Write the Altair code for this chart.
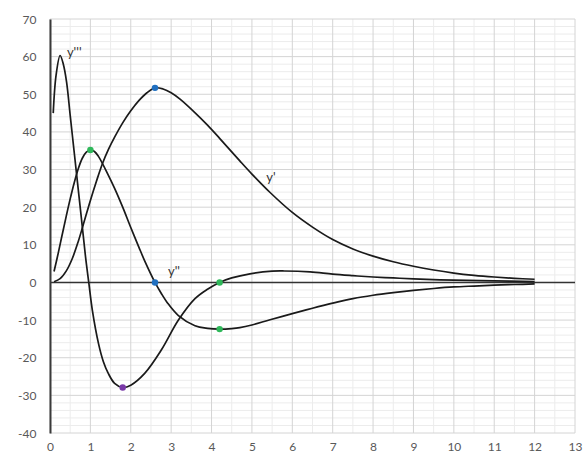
import altair as alt
import pandas as pd

# First derivative y'
d1_x = [0.1, 0.25, 0.4, 0.55, 0.7, 0.85, 1.0, 1.15, 1.3, 1.45, 1.6, 1.8, 2.0, 2.2, 2.4, 2.6,
        2.8, 3.0, 3.22, 3.6, 3.9, 4.2, 4.7, 5.0, 5.45, 6.0, 6.5, 7.0, 7.5, 8.0, 8.5, 9.0,
        9.5, 10.0, 10.5, 11.0, 11.5, 12.0]
d1_y = [0.2, 1.0, 3.0, 6.3, 10.9, 16.3, 21.8, 26.9, 31.6, 35.4, 38.6, 42.4, 45.6, 48.3, 50.4, 51.7,
        51.4, 50.4, 48.7, 45.0, 41.8, 38.3, 32.3, 28.8, 23.9, 18.6, 14.7, 11.4, 8.9, 7.0, 5.5, 4.3,
        3.3, 2.5, 1.9, 1.45, 1.1, 0.85]

# Second derivative y''
d2_x = [0.1, 0.2, 0.3, 0.4, 0.5, 0.6, 0.7, 0.8, 0.9, 1.0, 1.1, 1.2, 1.44, 1.6, 1.8, 2.0,
        2.2, 2.35, 2.6, 2.76, 2.9, 3.18, 3.59, 3.9, 4.2, 4.5, 4.7, 5.0, 5.45, 6.0, 6.5, 7.0,
        7.5, 8.0, 8.5, 9.0, 9.5, 10.0, 10.5, 11.0, 11.5, 12.0]
d2_y = [2.9, 7.6, 12.6, 17.5, 22.2, 26.5, 30.2, 33.0, 34.6, 35.2, 34.8, 33.5, 28.6, 25.0, 20.0, 14.6,
        9.4, 5.6, 0.0, -3.0, -5.3, -8.8, -11.5, -12.2, -12.4, -12.25, -12.0, -11.3, -9.9, -8.3, -6.85, -5.5,
        -4.3, -3.4, -2.7, -2.1, -1.6, -1.2, -0.95, -0.72, -0.55, -0.4]

# Third derivative y'''
d3_x = [0.08, 0.15, 0.25, 0.33, 0.41, 0.5, 0.58, 0.66, 0.78, 0.88, 0.96, 1.05, 1.2, 1.32, 1.44, 1.6,
        1.8, 2.0, 2.35, 2.76, 3.18, 3.59, 3.9, 4.2, 4.5, 4.95, 5.5, 5.8, 6.44, 7.0, 7.5, 8.0,
        8.5, 9.0, 10.0, 11.0, 12.0]
d3_y = [45.0, 55.0, 60.3, 58.0, 53.3, 44.4, 36.5, 28.6, 16.8, 6.8, 0.0, -7.5, -16.2, -21.0, -24.1, -26.8,
        -27.9, -27.3, -24.1, -17.9, -10.0, -4.3, -1.8, 0.0, 1.2, 2.3, 3.0, 3.05, 2.8, 2.2, 1.8, 1.45,
        1.2, 0.95, 0.6, 0.4, 0.25]

# Highlighted extrema and zero crossings
pt_x = [2.6, 2.6, 1.0, 4.2, 4.2, 1.8]
pt_y = [51.7, 0.0, 35.2, -12.4, 0.0, -27.9]
pt_color = ["#1f6fc0", "#1f6fc0", "#2fb85a", "#2fb85a", "#2fb85a", "#7a3aa8"]

# Curve names
lab_text = ["y'''", "y''", "y'"]
lab_x = [0.6, 3.07, 5.47]
lab_y = [61.0, 2.8, 27.8]

# Axis ticks and grid spacing
x_major = list(range(0, 14))
x_minor = [i + 0.5 for i in range(13)]
y_major = list(range(-40, 71, 10))
y_minor = [v for v in range(-40, 71, 2) if v % 10 != 0]

curves = pd.DataFrame(
    [{"series": "y'", "x": a, "y": b} for a, b in zip(d1_x, d1_y)]
    + [{"series": "y''", "x": a, "y": b} for a, b in zip(d2_x, d2_y)]
    + [{"series": "y'''", "x": a, "y": b} for a, b in zip(d3_x, d3_y)]
)
points = pd.DataFrame({"x": pt_x, "y": pt_y, "c": pt_color})
labels = pd.DataFrame({"t": lab_text, "x": lab_x, "y": lab_y})

FONT = "Lato"
MINOR = "#ececec"
MAJOR = "#d4d4d4"
xs = alt.Scale(domain=[0, 13], nice=False, zero=False)
ys = alt.Scale(domain=[-40, 70], nice=False, zero=False)

x_axis = alt.Axis(
    values=x_major, grid=False, domain=False, ticks=False, labelPadding=8,
    labelFontSize=12, labelColor="#595959", labelFont=FONT, labelFlush=False,
    labelOverlap=False, title=None,
)
y_axis = alt.Axis(
    values=y_major, grid=False, domain=True, domainColor="#3a3a3a", domainWidth=2,
    ticks=False, labelPadding=14, labelFontSize=12, labelColor="#595959",
    labelFont=FONT, labelOverlap=False, title=None, zindex=1,
    labelExpr="toString(datum.value)",
)

X = lambda f: alt.X(f, scale=xs, axis=x_axis)
Y = lambda f: alt.Y(f, scale=ys, axis=y_axis)


def vgrid(vals, color):
    return alt.Chart(pd.DataFrame({"v": vals})).mark_rule(color=color, strokeWidth=1).encode(
        x=X("v:Q")
    )


def hgrid(vals, color):
    return alt.Chart(pd.DataFrame({"v": vals})).mark_rule(color=color, strokeWidth=1).encode(
        y=Y("v:Q")
    )


zero_line = alt.Chart(pd.DataFrame({"v": [0]})).mark_rule(color="#333333", strokeWidth=1.6).encode(
    y=Y("v:Q")
)

lines = alt.Chart(curves).mark_line(
    color="#1a1a1a", strokeWidth=1.7, interpolate="catmull-rom"
).encode(
    x=X("x:Q"),
    y=Y("y:Q"),
    detail="series:N",
)

dots = alt.Chart(points).mark_circle(size=42, opacity=1).encode(
    x=X("x:Q"),
    y=Y("y:Q"),
    color=alt.Color("c:N", scale=None),
)

names = alt.Chart(labels).mark_text(
    font=FONT, fontSize=13, color="#333333", align="center", baseline="middle"
).encode(
    x=X("x:Q"),
    y=Y("y:Q"),
    text="t:N",
)

chart = alt.layer(
    vgrid(x_minor, MINOR), hgrid(y_minor, MINOR),
    vgrid(x_major, MAJOR), hgrid(y_major, MAJOR),
    zero_line, lines, dots, names,
).properties(
    width=525,
    height=414,
    padding={"left": 50, "top": 19, "right": 9, "bottom": 24},
    autosize="none",
    background="white",
).configure_view(stroke=None)

chart.save("out.html", embed_options={"renderer": "svg", "actions": False})
